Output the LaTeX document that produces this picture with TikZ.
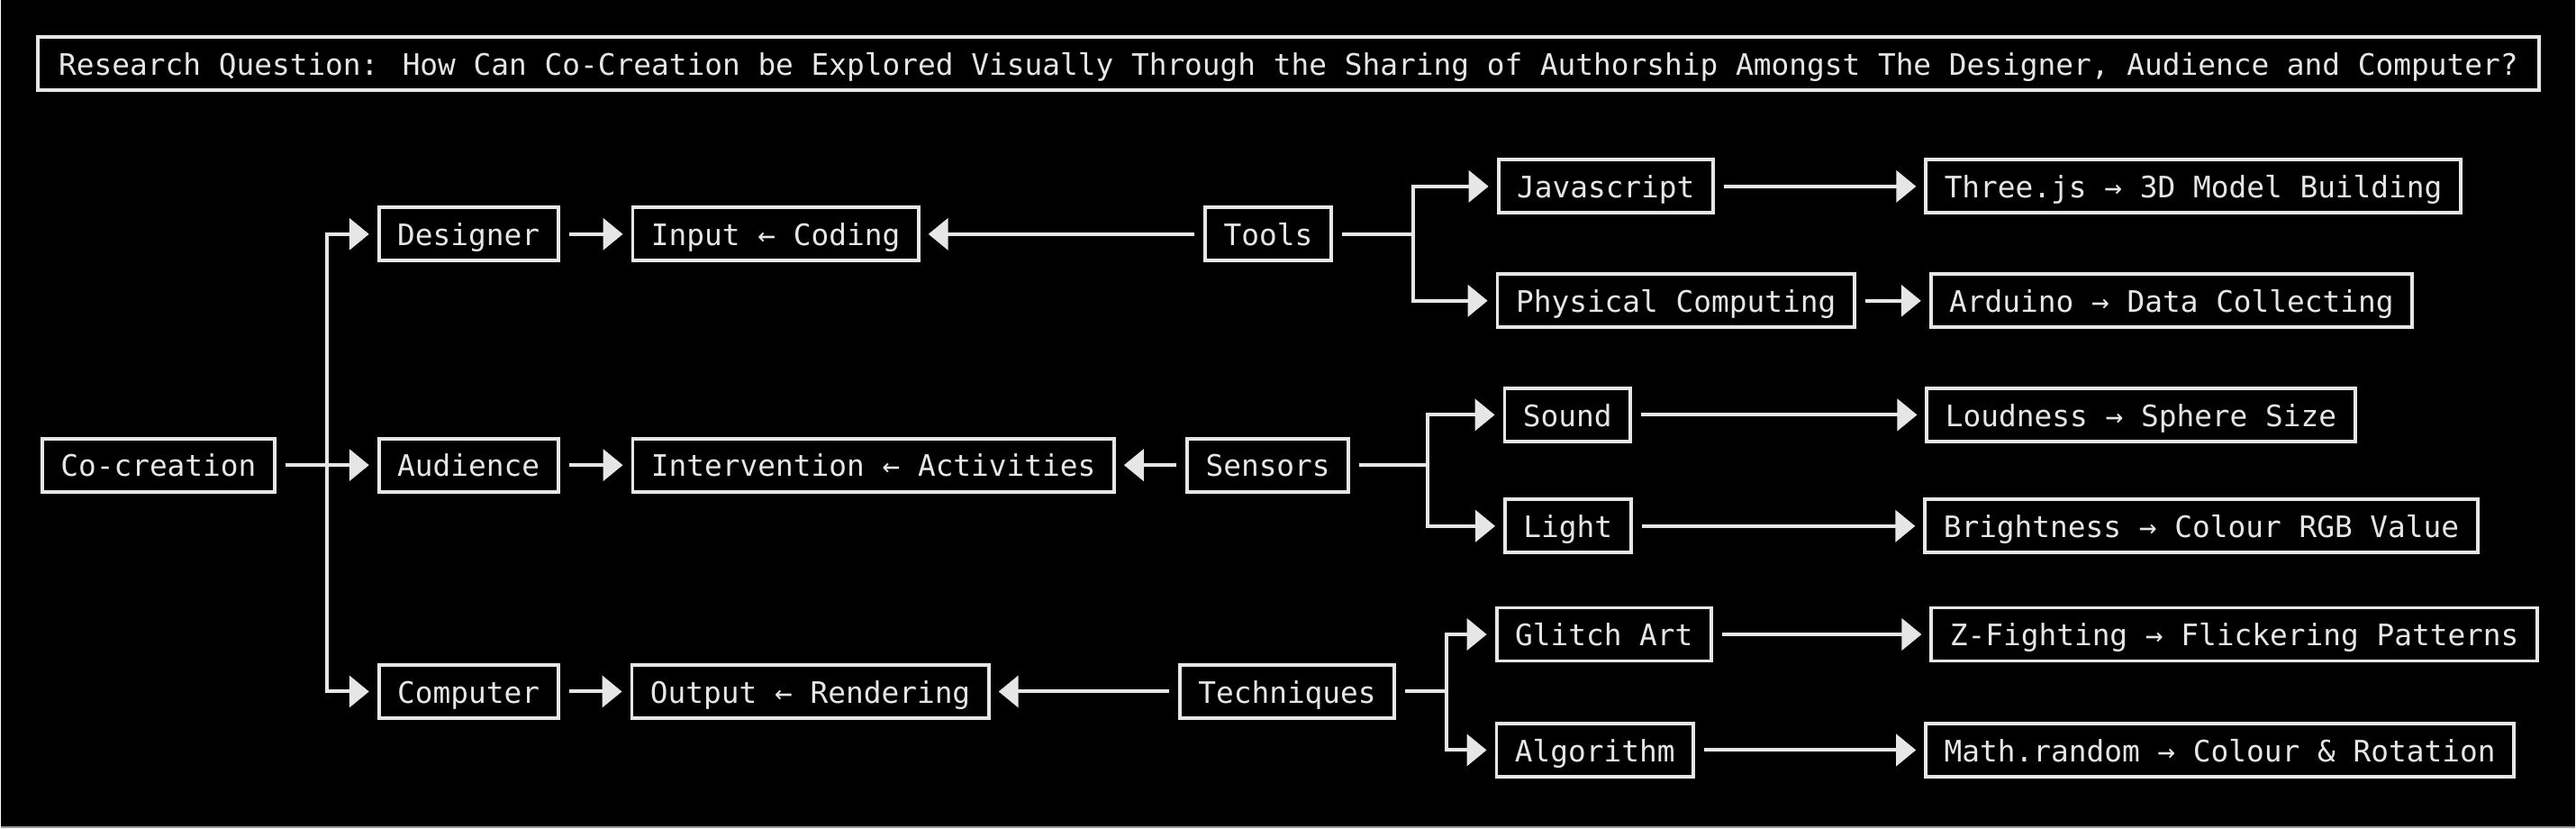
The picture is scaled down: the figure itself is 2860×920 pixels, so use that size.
\documentclass[tikz,border=0pt]{standalone}
\usepackage{fontspec}
\usetikzlibrary{arrows.meta}
\newfontfamily\diagfont{DejaVu Sans Mono}
\definecolor{fg}{HTML}{E6E6E6}
\definecolor{edge}{HTML}{9A9A9A}
\tikzset{
    box/.style={draw=fg, line width=1.1pt, text=fg, inner xsep=0.205cm, inner ysep=0pt,
        text height=0.95em, text depth=0.22em,
        minimum height=0.59cm, font=\diagfont\fontsize{9.33}{11}\selectfont},
    link/.style={draw=fg, line width=0.04cm},
    arr/.style={link, -{Triangle[length=0.22cm, width=0.35cm]}, shorten >=0.09cm},
}
\begin{document}
\begin{tikzpicture}[x=0.01cm, y=-0.01cm]
            \fill[black] (0,0) rectangle (2860,920);
            \draw[edge, line width=0.02cm] (0,919) -- (2860,919);
            % question
            \node[box, minimum width=27.77cm] (question) at (1430.5,70.3) {Research Question: How Can Co-Creation be Explored Visually Through the Sharing of Authorship Amongst The Designer, Audience and Computer?};
            % roles
            \node[box] (cocreation) at (175,516.5) {Co-creation};
            \node[box] (designer) at (519.5,260) {Designer};
            \node[box] (audience) at (519.5,516.5) {Audience};
            \node[box] (computer) at (519.5,768) {Computer};
            \node[box, anchor=west] (input) at (700,260) {Input ← Coding};
            \node[box, anchor=west] (intervention) at (700,516.5) {Intervention ← Activities};
            \node[box, anchor=west] (output) at (699,768) {Output ← Rendering};
            % means
            \node[box] (tools) at (1408,260) {Tools};
            \node[box] (sensors) at (1407.6,516.5) {Sensors};
            \node[box] (techniques) at (1429,768) {Techniques};
            \node[box] (javascript) at (1783,207) {Javascript};
            \node[box] (physical) at (1861,334) {Physical Computing};
            \node[box] (sound) at (1740.5,460.7) {Sound};
            \node[box] (light) at (1741,584.2) {Light};
            \node[box] (glitch) at (1781,704.5) {Glitch Art};
            \node[box] (algorithm) at (1771,833) {Algorithm};
            % results
            \node[box] (threejs) at (2435.8,207) {Three.js → 3D Model Building};
            \node[box] (arduino) at (2411.6,334) {Arduino → Data Collecting};
            \node[box] (loudness) at (2377.7,460.7) {Loudness → Sphere Size};
            \node[box] (brightness) at (2444.7,584.2) {Brightness → Colour RGB Value};
            \node[box] (zfighting) at (2481.4,704.5) {Z-Fighting → Flickering Patterns};
            \node[box] (mathrandom) at (2465.3,833) {Math.random → Colour \& Rotation};
            % forks
            \coordinate (forkroles) at (362,516.5);
            \coordinate (forktools) at (1568.6,260);
            \coordinate (forksensors) at (1585,516.5);
            \coordinate (forktechniques) at (1606,768);
            % connectors
            \draw[arr, shorten <=0.1cm] (cocreation) -- (audience);
            \draw[arr] (forkroles) |- (designer);
            \draw[arr] (forkroles) |- (computer);
            \draw[arr, shorten <=0.1cm] (designer) -- (input);
            \draw[arr, shorten <=0.1cm] (audience) -- (intervention);
            \draw[arr, shorten <=0.1cm] (computer) -- (output);
            \draw[arr, shorten <=0.1cm] (tools) -- (input);
            \draw[arr, shorten <=0.1cm] (sensors) -- (intervention);
            \draw[arr, shorten <=0.1cm] (techniques) -- (output);
            \draw[link, shorten <=0.1cm] (tools) -- (forktools);
            \draw[link, shorten <=0.1cm] (sensors) -- (forksensors);
            \draw[link, shorten <=0.1cm] (techniques) -- (forktechniques);
            \draw[arr] (forktools) |- (javascript);
            \draw[arr] (forktools) |- (physical);
            \draw[arr] (forksensors) |- (sound);
            \draw[arr] (forksensors) |- (light);
            \draw[arr] (forktechniques) |- (glitch);
            \draw[arr] (forktechniques) |- (algorithm);
            \draw[arr, shorten <=0.1cm] (javascript) -- (threejs);
            \draw[arr, shorten <=0.1cm] (physical) -- (arduino);
            \draw[arr, shorten <=0.1cm] (sound) -- (loudness);
            \draw[arr, shorten <=0.1cm] (light) -- (brightness);
            \draw[arr, shorten <=0.1cm] (glitch) -- (zfighting);
            \draw[arr, shorten <=0.1cm] (algorithm) -- (mathrandom);
\end{tikzpicture}
\end{document}
